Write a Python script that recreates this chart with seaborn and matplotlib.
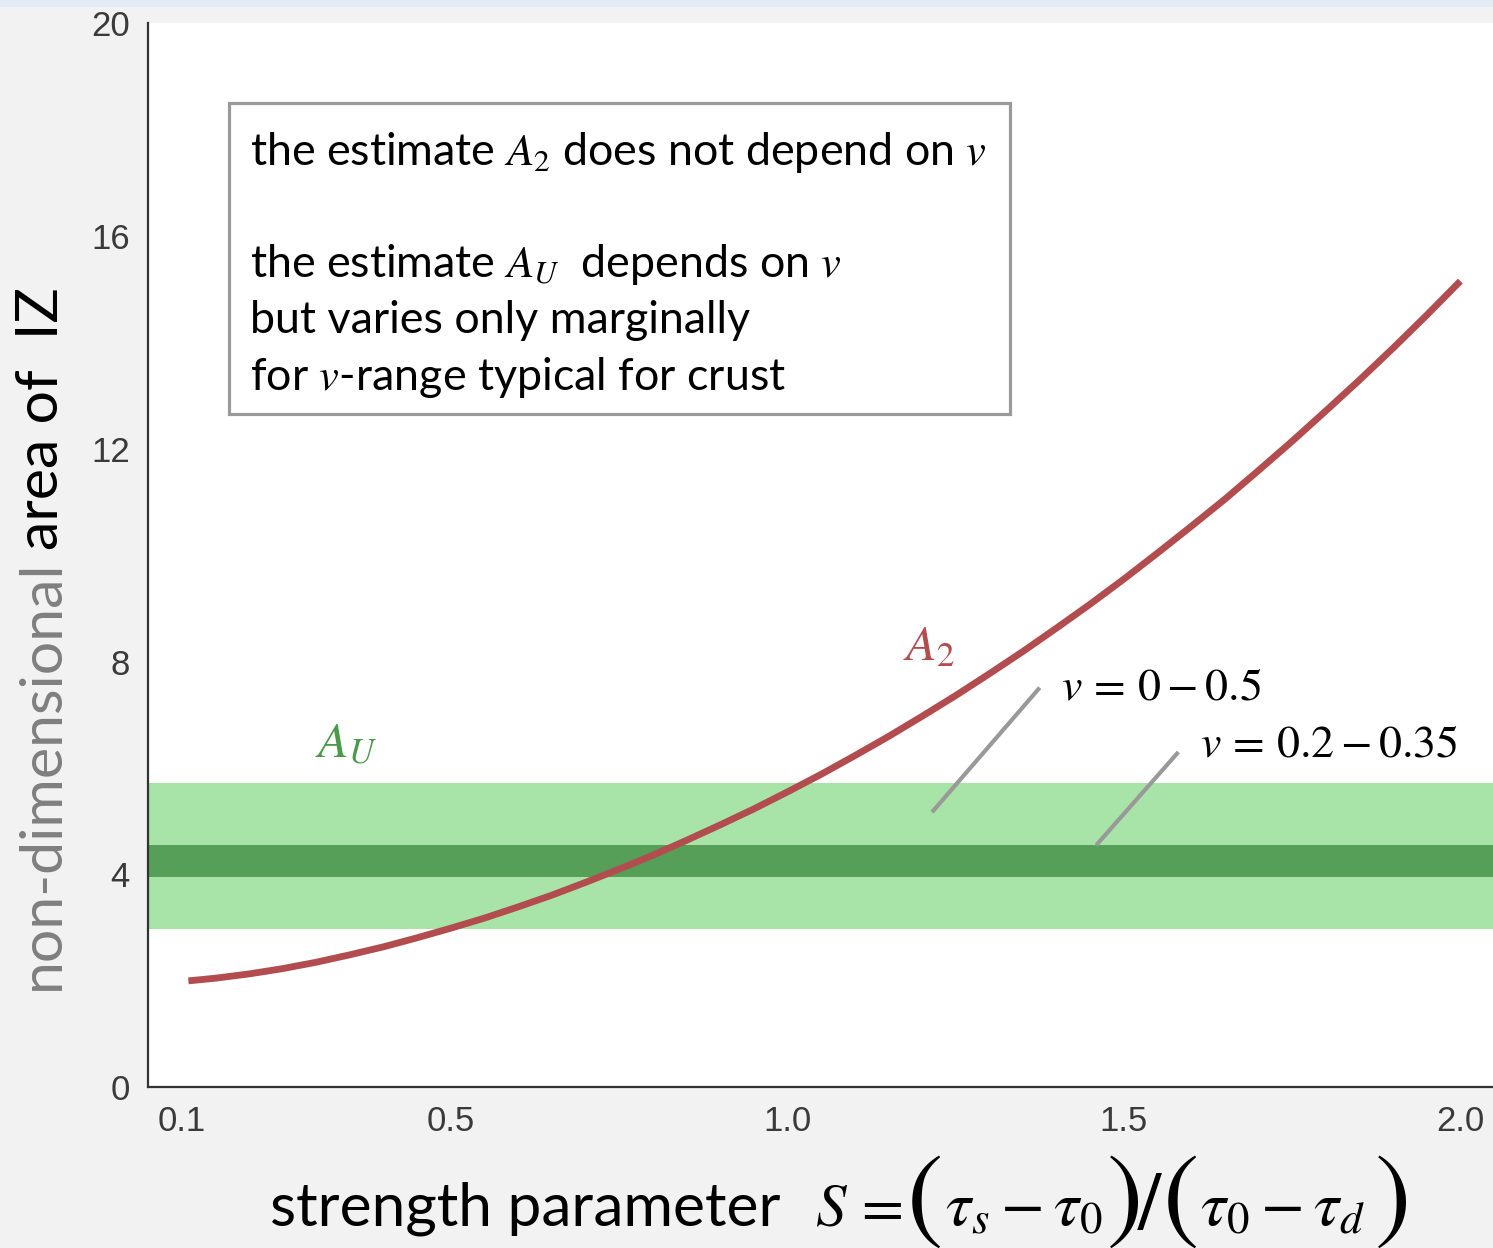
import matplotlib
matplotlib.use("Agg")
import matplotlib.pyplot as plt
from matplotlib.patches import Rectangle
import seaborn as sns

# strength parameter S and the IZ area estimate A2 (non-dimensional)
s_values = [0.11, 0.15, 0.20, 0.25, 0.30, 0.35, 0.40, 0.45, 0.50, 0.55,
            0.60, 0.65, 0.70, 0.75, 0.80, 0.85, 0.90, 0.95, 1.00, 1.05,
            1.10, 1.15, 1.20, 1.25, 1.30, 1.35, 1.40, 1.45, 1.50, 1.55,
            1.60, 1.65, 1.70, 1.75, 1.80, 1.85, 1.90, 1.95, 2.00]
a2_values = [2.00, 2.05, 2.13, 2.23, 2.35, 2.49, 2.64, 2.81, 2.99, 3.18,
             3.39, 3.61, 3.85, 4.10, 4.36, 4.64, 4.93, 5.23, 5.55, 5.88,
             6.23, 6.59, 6.97, 7.36, 7.77, 8.19, 8.63, 9.08, 9.55, 10.04,
             10.54, 11.05, 11.59, 12.14, 12.71, 13.29, 13.89, 14.51, 15.15]

# A_U spread for two Poisson-ratio ranges
au_range_full = [2.98, 5.71]     # nu = 0 - 0.5
au_range_crust = [3.95, 4.55]    # nu = 0.2 - 0.35

x_ticks = [0.1, 0.25, 0.5, 0.75, 1.0, 1.25, 1.5, 1.75, 2.0]
x_tick_labels = ["0.1", "", "0.5", "", "1.0", "", "1.5", "", "2.0"]
y_ticks = [0, 4, 8, 12, 16, 20]

RED = "#b34c4e"
LIGHT_GREEN = "#a8e4a8"
DARK_GREEN = "#559f59"
LABEL_GREEN = "#4a9a4a"
GREY_LINE = "#999999"
TICK_COLOR = "#3a3a3a"

sns.set_theme(style="white")
plt.rcParams["font.family"] = ["Lato", "DejaVu Sans"]
plt.rcParams["mathtext.fontset"] = "stix"

W, H = 1493, 1248
fig = plt.figure(figsize=(W / 100, H / 100), dpi=100, facecolor="#f2f2f2")
ax = fig.add_axes([148 / W, 1 - 1087.3 / H, (1494 - 148) / W, (1087.3 - 23) / H])
ax.set_facecolor("white")

# thin header strip
fig.patches.append(Rectangle((0, 1 - 7 / H), 1, 7 / H, transform=fig.transFigure,
                             facecolor="#e2eaf4", edgecolor="none"))

# A_U bands
ax.axhspan(*au_range_full, color=LIGHT_GREEN, lw=0, zorder=1)
ax.axhspan(*au_range_crust, color=DARK_GREEN, lw=0, zorder=2)

# A2 curve
sns.lineplot(x=s_values, y=a2_values, ax=ax, color=RED, linewidth=4.9,
             solid_capstyle="butt", zorder=3)

ax.set_xlim(0.05, 2.05)
ax.set_ylim(0, 20)
ax.set_xticks(x_ticks)
ax.set_xticklabels(x_tick_labels)
ax.set_yticks(y_ticks)
ax.set_yticklabels([str(v) for v in y_ticks])
ax.tick_params(direction="in", length=10, width=1.3, color="#333333",
               labelsize=25, labelcolor=TICK_COLOR, pad=13)
ax.tick_params(axis="y", length=8)
for lbl in ax.get_xticklabels() + ax.get_yticklabels():
    lbl.set_family(["Liberation Sans", "DejaVu Sans"])
for side in ("top", "right"):
    ax.spines[side].set_visible(False)
for side in ("left", "bottom"):
    ax.spines[side].set_color("#333333")
    ax.spines[side].set_linewidth(1.6)
ax.set_xlabel("")
ax.set_ylabel("")

# curve / band labels
ax.text(1.172, 8.03, r"$A_2$", color=RED, fontsize=36, va="baseline")
ax.text(0.298, 6.21, r"$A_U$", color=LABEL_GREEN, fontsize=36, va="baseline")
ax.text(1.406, 7.28, r"$v\,=\,0 - 0.5$", color="black", fontsize=33, va="baseline")
ax.text(1.613, 6.21, r"$v\,=\,0.2 - 0.35$", color="black", fontsize=33, va="baseline")
ax.plot([1.215, 1.375], [5.17, 7.51], color=GREY_LINE, lw=3, solid_capstyle="butt", zorder=4)
ax.plot([1.459, 1.581], [4.55, 6.30], color=GREY_LINE, lw=3, solid_capstyle="butt", zorder=4)

# explanatory box
fig.patches.append(Rectangle((229 / W, 1 - 414 / H), 781 / W, 311 / H,
                             transform=fig.transFigure, facecolor="white",
                             edgecolor="#9a9a9a", linewidth=2.3, zorder=5))
box_lines = [
    (165, r"the estimate $A_2$ does not depend on $v$"),
    (277, r"the estimate $A_U$  depends on $v$"),
    (333, "but varies only marginally"),
    (390, r"for $v$-range typical for crust"),
]
for y_px, txt in box_lines:
    fig.text(250 / W, 1 - y_px / H, txt, fontsize=32.2, color="black",
             va="baseline", ha="left", zorder=6)

# y axis title: grey prefix, black remainder
t1 = fig.text(42 / W, 1 - 990 / H, "non-dimensional", rotation=90,
              fontsize=42.5, color="#7f7f7f", ha="center", va="bottom")
ax.annotate("area of  IZ", xy=(0.5, 1.0), xycoords=t1, xytext=(0, 10),
            textcoords="offset pixels", rotation=90,
            fontsize=42.5, color="black", ha="center", va="bottom",
            annotation_clip=False)

# x axis title with large delimiters
fig.text(270 / W, 1 - 1225 / H, "strength parameter", fontsize=43.5, color="black",
         ha="left", va="baseline")
xlabel_parts = [
    (815, r"$S\,=$", 44, 1225),
    (906, r"$($", 78, 1229),
    (945, r"$\tau_s - \tau_0$", 46, 1225),
    (1106, r"$)$", 78, 1229),
    (1137, r"$/$", 60, 1229),
    (1162, r"$($", 78, 1229),
    (1200, r"$\tau_0 - \tau_d$", 46, 1225),
    (1374, r"$)$", 78, 1229),
]
for x_px, txt, size, y_px in xlabel_parts:
    fig.text(x_px / W, 1 - y_px / H, txt, fontsize=size, color="black",
             ha="left", va="baseline")

fig.savefig("out.png", dpi=100, facecolor=fig.get_facecolor())
